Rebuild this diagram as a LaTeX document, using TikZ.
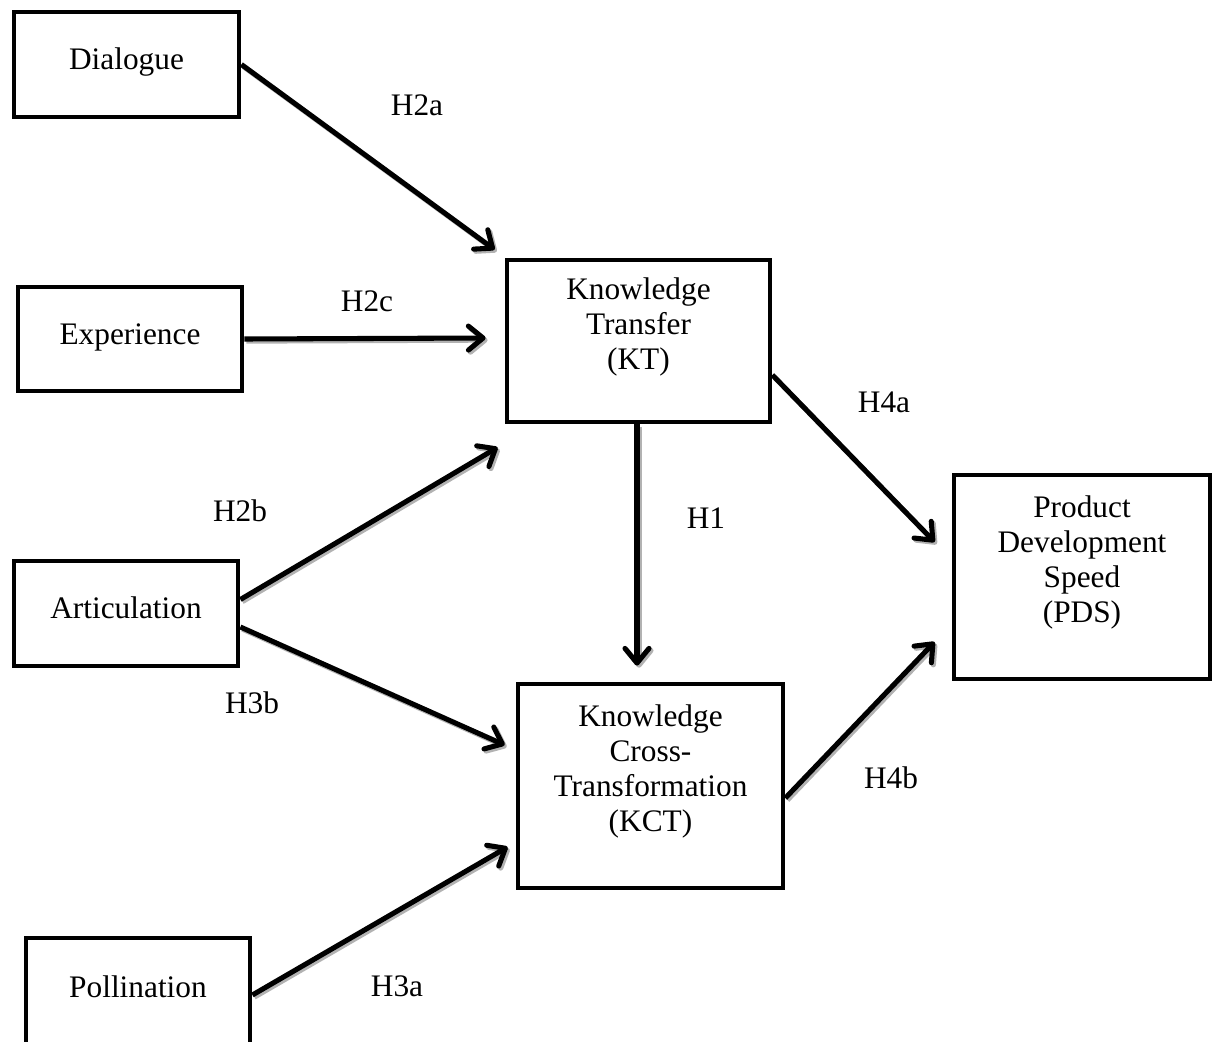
\documentclass[tikz,border=0pt]{standalone}
\usepackage{fontspec}
\setmainfont{Liberation Serif}
\usetikzlibrary{arrows.meta,calc}
\begin{document}
\begin{tikzpicture}[x=0.75pt,y=-0.75pt,
  every node/.style={font=\fontsize{23.5}{26.25}\selectfont, inner sep=0pt},
  box/.style={draw, line width=3.6pt, align=center},
  onebox/.style={box, text height=16.5pt, text depth=9pt},
  hlabel/.style={},
  conn/.style={line width=3.8pt,
    -{Straight Barb[length=11pt,width=18pt,round]}},
  connshadow/.style={conn, draw=gray!60}
]
\useasboundingbox (0,0) rectangle (1219,1041);

% boxes
\node[onebox, minimum width=168.75pt, minimum height=78.75pt] (Dial) at (126.5,64.5) {Dialogue};
\node[onebox, minimum width=168pt, minimum height=78pt] (Exp) at (130,339) {Experience};
\node[onebox, minimum width=168pt, minimum height=78.75pt] (Art) at (126,613.5) {Articulation};
\node[onebox, minimum width=168pt, minimum height=81pt] (Poll) at (138,992) {Pollination};
\node[box, minimum width=197.25pt, minimum height=121.5pt] (KT) at (638.5,341) {Knowledge\\Transfer\\(KT)\\\mbox{}};
\node[box, minimum width=198.75pt, minimum height=153pt] (KCT) at (650.5,786) {Knowledge\\Cross-\\Transformation\\(KCT)\\\mbox{}};
\node[box, minimum width=192pt, minimum height=153pt] (PDS) at (1082,577) {Product\\Development\\Speed\\(PDS)\\\mbox{}};

% connectors (drawn once as a grey shadow, then in black)
\newcommand\allconns[1]{%
\draw[#1] (Dial.east) -- ($(KT.north west)+(-10,-8)$);
\draw[#1] (Exp.east) -- ($(KT.west|-Exp.east)+(-19,-1)$);
\draw[#1] ($(Art.east)+(0,-14)$) -- ($(KT.south west)+(-7,23)$);
\draw[#1] ($(Art.east)+(0,13.5)$) -- ($(KCT.west)+(-11,-41)$);
\draw[#1] ($(Poll.east)+(0,3)$) -- ($(KCT.west)+(-8,61)$);
\draw[#1] ($(KT.south)+(-1.5,0)$) -- ($(KT.south|-KCT.north)+(-1.5,-16)$);
\draw[#1] ($(KT.east)+(0,34)$) -- ($(PDS.west)+(-17,-35)$);
\draw[#1] ($(KCT.east)+(0,12)$) -- ($(PDS.west)+(-17,65)$);
}
\begin{scope}[transform canvas={shift={(1.5pt,-1.6pt)}}]
\allconns{connshadow}
\end{scope}
\allconns{conn}

% labels
\node[hlabel] (lH2a) at (417,105) {H2a};
\node[hlabel] (lH2c) at (367,301) {H2c};
\node[hlabel] (lH2b) at (240,511) {H2b};
\node[hlabel] (lH3b) at (252,703) {H3b};
\node[hlabel] (lH3a) at (397,986) {H3a};
\node[hlabel] (lH1) at (706,518) {H1};
\node[hlabel] (lH4a) at (884,402) {H4a};
\node[hlabel] (lH4b) at (891,778) {H4b};
\end{tikzpicture}
\end{document}
